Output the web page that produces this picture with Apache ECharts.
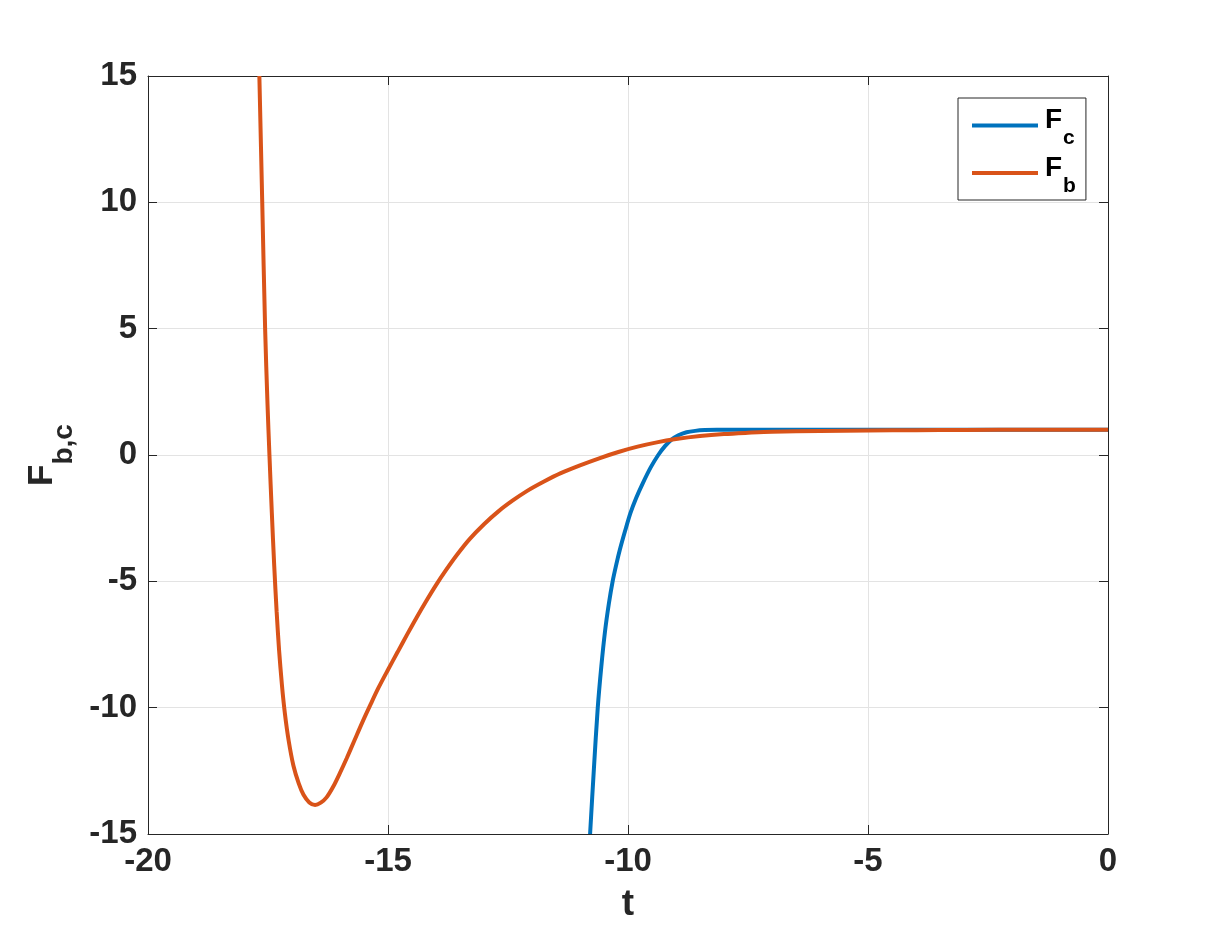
<!DOCTYPE html>
<html><head><meta charset="utf-8">
<script src="https://cdn.jsdelivr.net/npm/echarts@6/dist/echarts.min.js"></script>
<style>html,body{margin:0;padding:0;background:#fff;} #c{width:1224px;height:952px;}</style>
</head><body><div id="c"></div>
<script>
// ---- data ----
const seriesNames = ['Fc', 'Fb'];
const fcT = [-10.79, -10.71, -10.63, -10.555, -10.48, -10.40, -10.32, -10.24, -10.17, -10.06, -9.95, -9.83, -9.70, -9.53, -9.37, -9.23, -9.10, -8.95, -8.78, -8.60, -8.40, -8.15, -7.5, -5, -2.5, 0];
const fcV = [-15, -12.4, -10.0, -8.35, -7.0, -5.9, -5.0, -4.3, -3.75, -3.0, -2.3, -1.7, -1.15, -0.5, 0.0, 0.35, 0.6, 0.78, 0.9, 0.955, 0.985, 0.998, 1.0, 1.0, 1.0, 1.0];
const fbT = [-17.68, -17.62, -17.56, -17.51, -17.47, -17.42, -17.37, -17.32, -17.27, -17.21, -17.15, -17.07, -16.97, -16.86, -16.76, -16.64, -16.52, -16.40, -16.28, -16.14, -16.00, -15.86, -15.70, -15.54, -15.375, -15.20, -15.00, -14.80, -14.60, -14.40, -14.20, -14.00, -13.80, -13.57, -13.30, -13.00, -12.70, -12.40, -12.10, -11.75, -11.40, -11.00, -10.60, -10.20, -9.80, -9.40, -9.00, -8.50, -8.00, -7.50, -7.00, -6.00, -5.00, -4.00, -3.00, -1.50, 0];
const fbV = [15, 10, 5, 2, 0, -2.3, -4.4, -6.2, -7.7, -9.1, -10.2, -11.3, -12.3, -13.0, -13.45, -13.75, -13.85, -13.76, -13.55, -13.12, -12.58, -12.0, -11.3, -10.6, -9.92, -9.22, -8.5, -7.8, -7.1, -6.42, -5.77, -5.15, -4.58, -3.97, -3.33, -2.74, -2.23, -1.80, -1.42, -1.05, -0.72, -0.41, -0.13, 0.12, 0.33, 0.50, 0.63, 0.75, 0.83, 0.88, 0.92, 0.95, 0.97, 0.98, 0.99, 1.0, 1.0];
const xTickLabels = [-20, -15, -10, -5, 0];
const yTickLabels = [-15, -10, -5, 0, 5, 10, 15];

const FONT = "'Liberation Sans', Arial, Helvetica, sans-serif";
const AX = '#262626';
const zip = (a, b) => a.map((v, i) => [v, b[i]]);

const chart = echarts.init(document.getElementById('c'), null, {renderer: 'canvas'});
const xMin = xTickLabels[0], xMax = xTickLabels[xTickLabels.length - 1];
const yMin = yTickLabels[0], yMax = yTickLabels[yTickLabels.length - 1];
const xInt = xTickLabels[1] - xTickLabels[0], yInt = yTickLabels[1] - yTickLabels[0];

const tickLabel = {fontFamily: FONT, fontSize: 33, fontWeight: 'bold', color: AX};
// legend swatch: thin bar drawn in the lower part of the icon box
const legendIcon = 'path://M0,0L66,0L66,0.01L0,0.01Z M0,16L66,16L66,20L0,20Z';

chart.setOption({
  animation: false,
  backgroundColor: '#fff',
  grid: {left: 148, right: 116, top: 76, bottom: 118, containLabel: false},
  xAxis: [{
    type: 'value', min: xMin, max: xMax, interval: xInt, position: 'bottom',
    name: 't', nameLocation: 'middle', nameGap: 52,
    nameTextStyle: {fontFamily: FONT, fontSize: 37, fontWeight: 'bold', color: AX},
    axisLine: {show: true, onZero: false, lineStyle: {color: AX, width: 1}},
    axisTick: {show: true, inside: true, length: 9, lineStyle: {color: AX}},
    axisLabel: Object.assign({margin: 11}, tickLabel),
    splitLine: {show: true, lineStyle: {color: '#e3e3e3', width: 1}}
  }, {
    type: 'value', min: xMin, max: xMax, interval: xInt, position: 'top',
    axisLine: {show: true, onZero: false, lineStyle: {color: AX, width: 1}},
    axisTick: {show: true, inside: true, length: 9, lineStyle: {color: AX}},
    axisLabel: {show: false}, splitLine: {show: false}
  }],
  yAxis: [{
    type: 'value', min: yMin, max: yMax, interval: yInt, position: 'left',
    name: '{f|F}{s|b,c}', nameLocation: 'middle', nameGap: 74, nameRotate: 90,
    nameTextStyle: {
      color: AX,
      rich: {
        f: {fontFamily: FONT, fontSize: 35, fontWeight: 'bold', color: AX, lineHeight: 40, verticalAlign: 'top'},
        s: {fontFamily: FONT, fontSize: 28, fontWeight: 'bold', color: AX, lineHeight: 28, padding: [26, 0, 0, 0], verticalAlign: 'top'}
      }
    },
    axisLine: {show: true, onZero: false, lineStyle: {color: AX, width: 1}},
    axisTick: {show: true, inside: true, length: 9, lineStyle: {color: AX}},
    axisLabel: Object.assign({margin: 11}, tickLabel),
    splitLine: {show: true, lineStyle: {color: '#e3e3e3', width: 1}}
  }, {
    type: 'value', min: yMin, max: yMax, interval: yInt, position: 'right',
    axisLine: {show: true, onZero: false, lineStyle: {color: AX, width: 1}},
    axisTick: {show: true, inside: true, length: 9, lineStyle: {color: AX}},
    axisLabel: {show: false}, splitLine: {show: false}
  }],
  legend: {
    orient: 'vertical', left: 958, top: 98,
    padding: [4.5, 10, 3.4, 14], itemGap: 1.1, itemWidth: 66, itemHeight: 20, icon: legendIcon,
    backgroundColor: '#fff', borderColor: AX, borderWidth: 1, borderRadius: 0,
    data: seriesNames,
    formatter: n => n === 'Fc' ? '{f|F}{s|c}' : '{f|F}{s|b}',
    textStyle: {
      color: '#000',
      rich: {
        f: {fontFamily: FONT, fontSize: 28, fontWeight: 'bold', color: '#000', lineHeight: 30, padding: [4, 0, 0, 2], verticalAlign: 'top'},
        s: {fontFamily: FONT, fontSize: 21, fontWeight: 'bold', color: '#000', lineHeight: 21, padding: [25.5, 0, 0, 1], verticalAlign: 'top'}
      }
    }
  },
  series: [{
    name: 'Fc', type: 'line', data: zip(fcT, fcV), symbol: 'none', smooth: 0.3, clip: true,
    lineStyle: {color: '#0072BD', width: 4}, itemStyle: {color: '#0072BD'}
  }, {
    name: 'Fb', type: 'line', data: zip(fbT, fbV), symbol: 'none', smooth: 0.3, clip: true,
    lineStyle: {color: '#D95319', width: 4}, itemStyle: {color: '#D95319'}
  }]
});
</script>
</body></html>
